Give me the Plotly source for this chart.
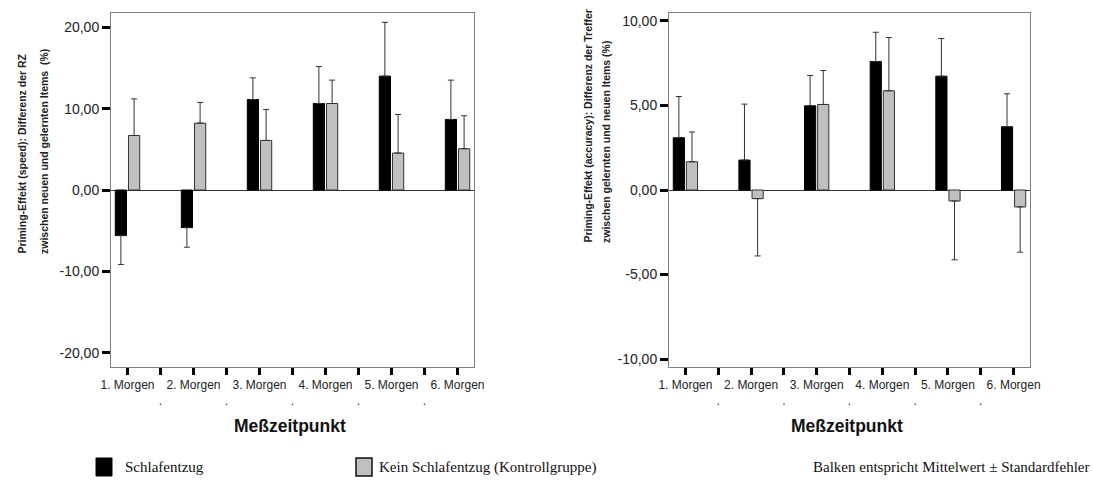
import plotly.graph_objects as go

W, H = 1093, 486

# ---------------- data ----------------
categories = ["1. Morgen", ".", "2. Morgen", ".", "3. Morgen", ".",
              "4. Morgen", ".", "5. Morgen", ".", "6. Morgen"]
groups = ["Schlafentzug", "Kein Schlafentzug (Kontrollgruppe)"]

speed_sleepdep_mean = [-5.60, -4.62, 11.12, 10.63, 13.99, 8.67]
speed_sleepdep_se = [3.56, 2.41, 2.66, 4.54, 6.61, 4.83]
speed_control_mean = [6.70, 8.22, 6.09, 10.63, 4.54, 5.07]
speed_control_se = [4.50, 2.54, 3.81, 2.87, 4.74, 4.05]

acc_sleepdep_mean = [3.09, 1.77, 4.98, 7.60, 6.73, 3.74]
acc_sleepdep_se = [2.44, 3.31, 1.79, 1.73, 2.23, 1.95]
acc_control_mean = [1.67, -0.51, 5.06, 5.87, -0.65, -1.00]
acc_control_se = [1.76, 3.39, 2.01, 3.15, 3.48, 2.68]

speed_ticks = [-20, -10, 0, 10, 20]
speed_ticktext = ["-20,00", "-10,00", "0,00", "10,00", "20,00"]
acc_ticks = [-10, -5, 0, 5, 10]
acc_ticktext = ["-10,00", "-5,00", "0,00", "5,00", "10,00"]

y_title_speed = ["Priming-Effekt (speed): Differenz der RZ",
                 "zwischen neuen und gelernten Items  (%)"]
y_title_acc = ["Priming-Effekt (accuracy): Differenz der Treffer",
               "zwischen gelernten und neuen Items (%)"]
x_title = "Meßzeitpunkt"
note_text = "Balken entspricht Mittelwert ± Standardfehler"

# ---------------- helpers ----------------
def px(x):
    return x / W

def py(y):
    return 1 - y / H

xpos = list(range(len(categories)))
real_idx = [i for i, c in enumerate(categories) if c != "."]
tick_text = [c if c != "." else "<br>." for c in categories]

def expand(vals, fill=None):
    out = [fill] * len(categories)
    for i, v in zip(real_idx, vals):
        out[i] = v
    return out

ARIAL = "Liberation Sans, Arial, sans-serif"
TIMES = "Liberation Serif, Times New Roman, serif"

def err(means, se):
    plus = [s if m >= 0 else 0 for m, s in zip(means, se)]
    minus = [s if m < 0 else 0 for m, s in zip(means, se)]
    return dict(type="data", symmetric=False, array=expand(plus, 0),
                arrayminus=expand(minus, 0),
                color="#333333", thickness=1, width=3)

fig = go.Figure()
styles = [dict(color="#000000", line=dict(color="#000000", width=1)),
          dict(color="#c0c0c0", line=dict(color="#333333", width=1))]

for xa, ya, data in [("x", "y", [(speed_sleepdep_mean, speed_sleepdep_se),
                                  (speed_control_mean, speed_control_se)]),
                     ("x2", "y2", [(acc_sleepdep_mean, acc_sleepdep_se),
                                    (acc_control_mean, acc_control_se)])]:
    for k, (m, s) in enumerate(data):
        fig.add_trace(go.Bar(x=xpos, y=expand(m), name=groups[k], marker=styles[k],
                             error_y=err(m, s), xaxis=xa, yaxis=ya,
                             offsetgroup=str(k), showlegend=False))

axis_common = dict(showgrid=False, linecolor="#808080", linewidth=1, mirror=True,
                   ticks="outside", tickcolor="#000000", showline=True,
                   automargin=False)

fig.update_layout(
    template="none",
    width=W, height=H,
    margin=dict(l=0, r=0, t=0, b=0, pad=0),
    paper_bgcolor="white", plot_bgcolor="white",
    barmode="group", bargap=0.2, bargroupgap=0.15,
    font=dict(family=ARIAL, color="#222222"),
    xaxis=dict(domain=[px(111), px(474)], anchor="y", range=[-0.5, 10.5],
               tickvals=xpos, ticktext=tick_text,
               ticklen=7, tickwidth=3, tickfont=dict(size=12, family=ARIAL),
               zeroline=False, **axis_common),
    yaxis=dict(domain=[py(367), py(13)], anchor="x", range=[-21.75, 21.75],
               tickvals=speed_ticks, ticktext=speed_ticktext,
               ticklen=8, tickwidth=3, tickfont=dict(size=14, family=ARIAL),
               zeroline=True, zerolinecolor="#333333", zerolinewidth=1,
               **axis_common),
    xaxis2=dict(domain=[px(669), px(1030)], anchor="y2", range=[-0.5, 10.5],
                tickvals=xpos, ticktext=tick_text,
                ticklen=7, tickwidth=3, tickfont=dict(size=12, family=ARIAL),
                zeroline=False, **axis_common),
    yaxis2=dict(domain=[py(367), py(13)], anchor="x2", range=[-10.47, 10.47],
                tickvals=acc_ticks, ticktext=acc_ticktext,
                ticklen=8, tickwidth=3, tickfont=dict(size=14, family=ARIAL),
                zeroline=True, zerolinecolor="#333333", zerolinewidth=1,
                **axis_common),
)

ann = []
# y-axis titles (two lines each, rotated)
for xs, ys, lines in [((21.5, 43.5), 256, y_title_speed),
                      ((587, 606), 245, y_title_acc)]:
    for xv, line in zip(xs, lines):
        ann.append(dict(x=px(xv), y=py(ys), xref="paper", yref="paper",
                        text="<b>%s</b>" % line, textangle=-90, showarrow=False,
                        xanchor="center", yanchor="bottom",
                        font=dict(size=10.5, family=ARIAL, color="#222222")))
# x-axis titles
for xv in (290, 847):
    ann.append(dict(x=px(xv), y=py(426), xref="paper", yref="paper",
                    text="<b>%s</b>" % x_title, showarrow=False,
                    xanchor="center", yanchor="middle",
                    font=dict(size=17.5, family=ARIAL, color="#111111")))
# legend texts
legend_font = dict(size=15, family=TIMES, color="#111111")
ann.append(dict(x=px(123), y=py(467), xref="paper", yref="paper", text=groups[0],
                showarrow=False, xanchor="left", yanchor="middle", font=legend_font))
ann.append(dict(x=px(377), y=py(467), xref="paper", yref="paper", text=groups[1],
                showarrow=False, xanchor="left", yanchor="middle", font=legend_font))
ann.append(dict(x=px(1091), y=py(467), xref="paper", yref="paper", text=note_text,
                showarrow=False, xanchor="right", yanchor="middle", font=legend_font))
fig.update_layout(annotations=ann)

shapes = [
    dict(type="rect", xref="paper", yref="paper", x0=px(96), x1=px(112),
         y0=py(476), y1=py(458), fillcolor="#000000", line=dict(color="#000000", width=1)),
    dict(type="rect", xref="paper", yref="paper", x0=px(356), x1=px(372),
         y0=py(476), y1=py(458), fillcolor="#c0c0c0", line=dict(color="#111111", width=1.5)),
]
fig.update_layout(shapes=shapes)

fig.write_html("out.html")
